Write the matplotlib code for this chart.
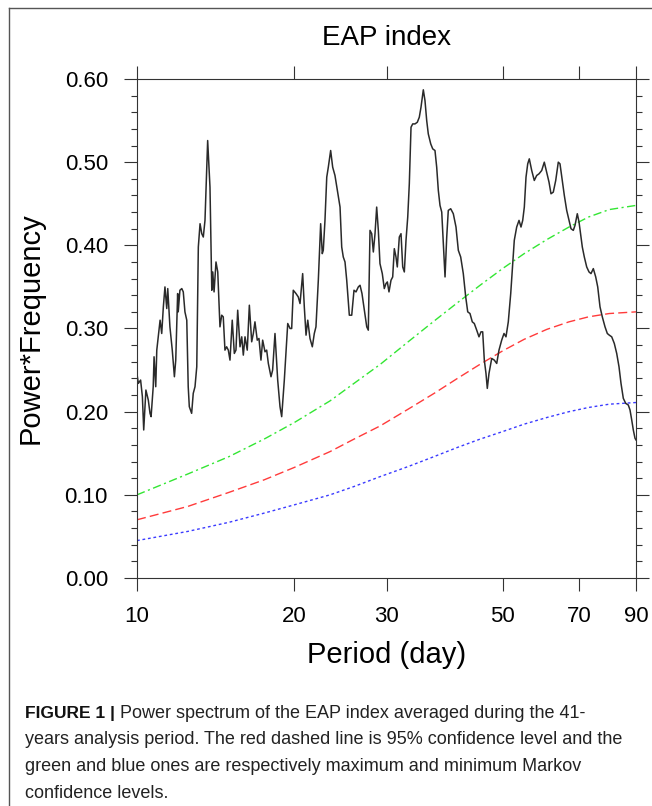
import matplotlib
matplotlib.use("Agg")
import matplotlib.pyplot as plt
from matplotlib.lines import Line2D
from matplotlib.ticker import FixedLocator, NullLocator, MultipleLocator, FormatStrFormatter

plt.rcParams['font.family'] = ['Liberation Sans', 'DejaVu Sans']

# power spectrum (period in days, power*frequency)
period = [
    10.00, 10.06, 10.16, 10.24, 10.30, 10.40, 10.51, 10.59, 10.64, 10.74,
    10.78, 10.86, 10.91, 10.98, 11.07, 11.15, 11.23, 11.31, 11.40, 11.45,
    11.56, 11.68, 11.79, 11.86, 11.96, 11.99, 12.08, 12.18, 12.26, 12.35,
    12.45, 12.53, 12.59, 12.72, 12.81, 12.91, 13.01, 13.10, 13.20, 13.30,
    13.39, 13.49, 13.65, 13.79, 13.90, 13.96, 14.04, 14.16, 14.27, 14.41,
    14.52, 14.62, 14.73, 14.84, 14.95, 15.06, 15.21, 15.35, 15.46, 15.58,
    15.74, 15.86, 15.97, 16.09, 16.25, 16.40, 16.57, 16.69, 16.81, 16.98,
    17.11, 17.26, 17.39, 17.57, 17.70, 17.83, 18.04, 18.17, 18.36, 18.58,
    18.77, 18.91, 19.13, 19.42, 19.62, 19.76, 19.90, 20.14, 20.34, 20.50,
    20.74, 20.89, 21.05, 21.21, 21.42, 21.64, 21.83, 21.99, 22.22, 22.45,
    22.61, 22.71, 22.88, 23.06, 23.22, 23.46, 23.67, 23.91, 24.16, 24.45,
    24.63, 24.80, 24.99, 25.18, 25.47, 25.74, 26.00, 26.23, 26.50, 26.70,
    26.93, 27.21, 27.50, 27.69, 27.90, 28.11, 28.31, 28.52, 28.73, 28.94,
    29.15, 29.45, 29.71, 29.93, 30.11, 30.33, 30.60, 30.83, 31.05, 31.28,
    31.46, 31.74, 31.98, 32.22, 32.45, 32.69, 32.94, 33.17, 33.42, 33.67,
    34.01, 34.36, 34.66, 34.92, 35.28, 35.54, 35.81, 36.06, 36.45, 36.77,
    37.14, 37.42, 37.69, 37.97, 38.26, 38.53, 38.82, 39.11, 39.38, 39.80,
    40.26, 40.74, 41.16, 41.59, 42.07, 42.52, 42.90, 43.33, 43.77, 44.16,
    44.63, 45.08, 45.48, 45.82, 46.15, 46.49, 46.76, 47.11, 47.68, 48.22,
    48.74, 49.23, 49.82, 50.33, 50.77, 51.29, 51.84, 52.29, 52.66, 53.22,
    53.77, 54.24, 54.65, 55.04, 55.45, 55.87, 56.26, 56.86, 57.51, 58.12,
    58.72, 59.42, 60.10, 60.74, 61.36, 61.90, 62.53, 63.20, 63.92, 64.40,
    65.06, 65.64, 66.33, 67.01, 67.60, 68.29, 68.80, 69.50, 70.03, 70.64,
    71.05, 71.68, 72.44, 73.18, 73.82, 74.58, 75.37, 76.04, 76.81, 77.59,
    78.52, 79.32, 80.02, 80.87, 81.80, 82.67, 83.51, 84.25, 85.11, 86.01,
    87.00, 87.66, 88.32, 88.94, 89.61, 90.00,
]
power = [
    0.245, 0.234, 0.238, 0.218, 0.178, 0.226, 0.214, 0.198, 0.194, 0.230,
    0.266, 0.230, 0.274, 0.290, 0.310, 0.294, 0.326, 0.350, 0.324, 0.348,
    0.302, 0.274, 0.242, 0.262, 0.342, 0.320, 0.346, 0.348, 0.344, 0.320,
    0.310, 0.230, 0.206, 0.198, 0.222, 0.230, 0.254, 0.398, 0.426, 0.414,
    0.410, 0.430, 0.526, 0.470, 0.346, 0.368, 0.344, 0.380, 0.368, 0.302,
    0.316, 0.314, 0.274, 0.278, 0.274, 0.262, 0.310, 0.270, 0.274, 0.322,
    0.278, 0.290, 0.268, 0.290, 0.274, 0.328, 0.284, 0.294, 0.308, 0.286,
    0.288, 0.262, 0.286, 0.272, 0.274, 0.258, 0.242, 0.250, 0.294, 0.238,
    0.206, 0.194, 0.238, 0.306, 0.300, 0.300, 0.346, 0.342, 0.338, 0.330,
    0.366, 0.326, 0.292, 0.310, 0.288, 0.278, 0.294, 0.302, 0.358, 0.426,
    0.390, 0.394, 0.430, 0.482, 0.494, 0.514, 0.494, 0.484, 0.466, 0.446,
    0.398, 0.386, 0.380, 0.358, 0.316, 0.316, 0.346, 0.344, 0.350, 0.352,
    0.342, 0.322, 0.302, 0.298, 0.418, 0.414, 0.392, 0.414, 0.446, 0.418,
    0.378, 0.366, 0.348, 0.354, 0.356, 0.344, 0.358, 0.362, 0.396, 0.386,
    0.374, 0.410, 0.414, 0.374, 0.368, 0.406, 0.434, 0.474, 0.542, 0.546,
    0.546, 0.548, 0.554, 0.566, 0.587, 0.574, 0.550, 0.534, 0.522, 0.516,
    0.514, 0.494, 0.466, 0.448, 0.440, 0.402, 0.362, 0.410, 0.442, 0.444,
    0.438, 0.422, 0.394, 0.386, 0.366, 0.338, 0.320, 0.318, 0.308, 0.306,
    0.298, 0.290, 0.296, 0.296, 0.262, 0.246, 0.228, 0.246, 0.264, 0.262,
    0.258, 0.274, 0.286, 0.294, 0.290, 0.308, 0.342, 0.378, 0.406, 0.422,
    0.430, 0.422, 0.430, 0.446, 0.482, 0.498, 0.504, 0.490, 0.478, 0.484,
    0.486, 0.490, 0.500, 0.488, 0.476, 0.462, 0.464, 0.478, 0.500, 0.498,
    0.478, 0.460, 0.442, 0.430, 0.420, 0.418, 0.424, 0.438, 0.428, 0.410,
    0.398, 0.386, 0.374, 0.368, 0.366, 0.372, 0.362, 0.350, 0.326, 0.314,
    0.302, 0.294, 0.292, 0.290, 0.282, 0.270, 0.254, 0.234, 0.216, 0.210,
    0.208, 0.202, 0.190, 0.178, 0.168, 0.166,
]

# confidence curves
conf_period = [10, 12.5, 15, 17.5, 20, 23.4, 26, 29.2, 33, 37, 41, 45.3, 50,
               55, 60.8, 67, 73, 80, 90]
markov_max = [0.100, 0.125, 0.146, 0.167, 0.187, 0.213, 0.234, 0.257, 0.284,
              0.309, 0.331, 0.352, 0.372, 0.390, 0.407, 0.422, 0.434, 0.443, 0.448]
conf_95 = [0.070, 0.086, 0.103, 0.118, 0.133, 0.152, 0.167, 0.183, 0.203,
           0.222, 0.240, 0.257, 0.273, 0.287, 0.299, 0.308, 0.314, 0.318, 0.320]
markov_min = [0.045, 0.056, 0.067, 0.078, 0.088, 0.100, 0.110, 0.122, 0.134,
              0.146, 0.157, 0.167, 0.176, 0.185, 0.193, 0.200, 0.205, 0.209, 0.211]

xticks = [10, 20, 30, 50, 70, 90]

W, H = 652, 806
fig = plt.figure(figsize=(W / 100, H / 100), dpi=100)
ax = fig.add_axes([137 / W, 1 - 578 / H, 499 / W, 499 / H])

ax.plot(conf_period, markov_max, color='#33e633', lw=1.0, ls=(0, (6, 2.5, 1.5, 2.5)))
ax.plot(conf_period, conf_95, color='#ff3b3b', lw=1.0, ls=(0, (6.5, 3)))
ax.plot(conf_period, markov_min, color='#3b3bff', lw=1.0, ls=(0, (2, 2)))
ax.plot(period, power, color='#2a2a2a', lw=1.1)

ax.set_xscale('log')
ax.set_xlim(10, 90)
ax.set_ylim(0, 0.6)
ax.xaxis.set_major_locator(FixedLocator(xticks))
ax.xaxis.set_minor_locator(NullLocator())
ax.set_xticklabels([str(t) for t in xticks])
ax.yaxis.set_major_locator(MultipleLocator(0.1))
ax.yaxis.set_minor_locator(MultipleLocator(0.02))
ax.yaxis.set_major_formatter(FormatStrFormatter('%.2f'))

ax.tick_params(which='both', direction='out', top=True, right=True,
               width=0.8, color='#333333')
ax.tick_params(which='major', length=9.4, labelsize=16)
ax.tick_params(which='minor', length=4.3)
ax.tick_params(axis='y', pad=11.5)
ax.tick_params(axis='x', pad=10.5)
for sp in ax.spines.values():
    sp.set_linewidth(0.8)
    sp.set_color('#333333')

ax.set_xlabel('Period (day)', fontsize=21)
ax.xaxis.set_label_coords(0.5, -(655 - 578) / 499)
ax.xaxis.label.set_va('center')
ax.set_ylabel('Power*Frequency', fontsize=21)
ax.yaxis.set_label_coords(-(137 - 31) / 499, 0.5)
ax.yaxis.label.set_va('center')
ax.text(0.5, 1 + (79 - 38) / 499, 'EAP index', transform=ax.transAxes,
        ha='center', va='center', fontsize=20)

# page frame
fig.add_artist(Line2D([9 / W, 1], [1 - 8 / H, 1 - 8 / H], transform=fig.transFigure,
                      color='#555555', lw=1.0))
fig.add_artist(Line2D([9 / W, 9 / W], [0, 1 - 8 / H], transform=fig.transFigure,
                      color='#555555', lw=1.0))

# caption
cap_size = 13
fig.text(25 / W, 1 - 718 / H, 'FIGURE 1 |', fontsize=12.5, fontweight='bold',
         color='#111111', va='baseline')
fig.text(120 / W, 1 - 718 / H, 'Power spectrum of the EAP index averaged during the 41-',
         fontsize=cap_size, color='#222222', va='baseline')
caption_rest = [
    'years analysis period. The red dashed line is 95% confidence level and the',
    'green and blue ones are respectively maximum and minimum Markov',
    'confidence levels.',
]
for i, line in enumerate(caption_rest):
    fig.text(25 / W, 1 - (744.5 + 26.5 * i) / H, line, fontsize=cap_size,
             color='#222222', va='baseline')

fig.savefig('out.png', dpi=100)
